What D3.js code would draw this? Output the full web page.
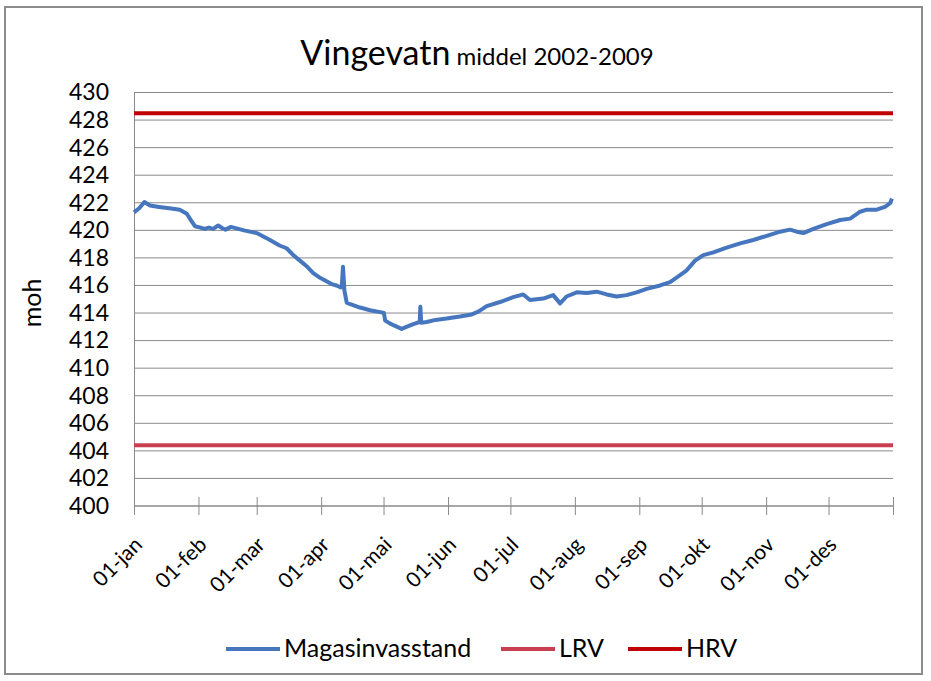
<!DOCTYPE html>
<html>
<head>
<meta charset="utf-8">
<script src="https://cdn.jsdelivr.net/npm/d3@7"></script>
<style>
  body { margin: 0; background: #fff; }
  text { font-family: Lato, 'Open Sans', sans-serif; fill: #000; }
</style>
</head>
<body>
<div id="chart-1"></div>
<script>
// day of year (0 = 01-jan) and mean reservoir level
const days = [0, 2.5, 5, 7.7, 12, 17, 22, 25.4, 27.5, 29.3, 32, 34, 36, 38, 40.5, 42.5, 44, 46.6, 52.9, 59,
  65.4, 70, 73.4, 76.6, 81.4, 83, 86.2, 89, 92.6, 95, 97.4, 99.5, 99.9, 100.5, 101.2, 102.3, 104, 108.7, 113.5, 119,
  120.2, 120.8, 123, 125, 128.7, 131, 134.3, 137.4, 137.7, 138.1, 140.7, 145, 150.3, 156.8, 162.4, 165.6, 169.6, 176, 182.4, 187.2,
  190.4, 196.8, 201.6, 204.9, 208, 212.9, 217.7, 222.5, 227.3, 232.1, 236.9, 241.7, 246.5, 253, 257.8, 262.6, 265.8, 269.8, 273.8, 278.6,
  285, 291.5, 297.8, 304.3, 310.7, 315.5, 318.7, 321.9, 326.7, 333.1, 339.6, 344.4, 349.2, 352.4, 357.2, 361.1, 363.5, 364.5]
const levels = [421.3, 421.6, 422.05, 421.8, 421.7, 421.6, 421.5, 421.2, 420.7, 420.3, 420.2, 420.1, 420.2, 420.1, 420.35, 420.15, 420.05, 420.25, 420.0, 419.8,
  419.3, 418.9, 418.7, 418.2, 417.6, 417.4, 416.9, 416.6, 416.3, 416.1, 416.0, 415.85, 415.9, 417.35, 415.6, 414.75, 414.65, 414.4, 414.2, 414.05,
  414.0, 413.45, 413.25, 413.1, 412.85, 413.0, 413.2, 413.35, 414.45, 413.3, 413.35, 413.5, 413.6, 413.75, 413.9, 414.1, 414.5, 414.8, 415.15, 415.35,
  414.95, 415.05, 415.3, 414.7, 415.2, 415.5, 415.45, 415.55, 415.35, 415.2, 415.3, 415.5, 415.75, 416.0, 416.25, 416.75, 417.1, 417.8, 418.2, 418.4,
  418.75, 419.05, 419.3, 419.6, 419.9, 420.05, 419.9, 419.8, 420.1, 420.45, 420.75, 420.85, 421.35, 421.5, 421.5, 421.7, 421.95, 422.3]

const lrv = 404.4
const hrv = 428.5

const tickLabels = ['01-jan', '01-feb', '01-mar', '01-apr', '01-mai', '01-jun', '01-jul', '01-aug', '01-sep', '01-okt', '01-nov', '01-des']
const yTicks = d3.range(400, 431, 2)

const legendNames = ['Magasinvasstand', 'LRV', 'HRV']
const colors = { Magasinvasstand: '#4677be', LRV: '#c8404f', HRV: '#c00000' }

let margin = { top: 92.5, left: 134, right: 38, bottom: 175 }
let width = 931 - margin.left - margin.right
let height = 681 - margin.top - margin.bottom

let outer = d3
  .select('#chart-1')
  .append('svg')
  .attr('width', 931)
  .attr('height', 681)

// chart frame
outer.append('rect')
  .attr('x', 5).attr('y', 7)
  .attr('width', 917).attr('height', 667)
  .attr('fill', 'none')
  .attr('stroke', '#8c8c8c')
  .attr('stroke-width', 2)

let svg = outer.append('g')
  .attr('transform', 'translate(' + margin.left + ',' + margin.top + ')')

const start = new Date(Date.UTC(2009, 0, 1))
const end = new Date(Date.UTC(2010, 0, 1))
const xScale = d3.scaleUtc().domain([start, end]).range([0, width])
const yScale = d3.scaleLinear().domain([400, 430]).range([height, 0])

const toDate = d => new Date(start.getTime() + d * 864e5)

// gridlines
svg.selectAll('.grid')
  .data(yTicks)
  .enter()
  .append('line')
  .attr('class', 'grid')
  .attr('x1', 0)
  .attr('x2', width)
  .attr('y1', d => yScale(d))
  .attr('y2', d => yScale(d))
  .attr('stroke', '#8a8a8a')
  .attr('stroke-width', 1)

// y axis
const yAxis = d3.axisLeft(yScale).tickValues(yTicks).tickSize(0).tickPadding(25)
svg.append('g')
  .attr('class', 'y-axis')
  .call(yAxis)
  .call(g => g.select('.domain').attr('stroke', '#8a8a8a'))
  .call(g => g.selectAll('text').attr('font-size', 23).attr('font-family', 'Lato').attr('fill', '#000'))

// x axis
const monthTicks = d3.utcMonth.range(start, d3.utcDay.offset(end, 1))
const xAxis = d3.axisBottom(xScale).tickValues(monthTicks).tickSize(9).tickFormat(d => d < end ? tickLabels[d.getUTCMonth()] : '')
svg.append('g')
  .attr('class', 'x-axis')
  .attr('transform', 'translate(0,' + height + ')')
  .call(xAxis)
  .call(g => g.select('.domain').attr('stroke', '#8a8a8a').attr('d', 'M0,0H' + width))
  .call(g => g.selectAll('.tick line').attr('stroke', '#8a8a8a').attr('y1', -9))
  .call(g => g.selectAll('text')
    .attr('font-size', 21)
    .attr('font-family', 'Lato')
    .attr('fill', '#000')
    .attr('text-anchor', 'end')
    .attr('dy', null)
    .attr('y', 0)
    .attr('transform', 'translate(9,40) rotate(-45)'))

// LRV / HRV
svg.append('line')
  .attr('x1', 0).attr('x2', width)
  .attr('y1', yScale(lrv)).attr('y2', yScale(lrv))
  .attr('stroke', colors.LRV).attr('stroke-width', 4)

svg.append('line')
  .attr('x1', 0).attr('x2', width)
  .attr('y1', yScale(hrv)).attr('y2', yScale(hrv))
  .attr('stroke', colors.HRV).attr('stroke-width', 4)

// reservoir level
const line = d3.line()
  .x((d, i) => xScale(toDate(d)))
  .y((d, i) => yScale(levels[i]))

svg.append('path')
  .datum(days)
  .attr('d', line)
  .attr('fill', 'none')
  .attr('stroke', colors.Magasinvasstand)
  .attr('stroke-width', 4)
  .attr('stroke-linejoin', 'round')

// y title
outer.append('text')
  .text('moh')
  .attr('transform', 'translate(41,303) rotate(-90)')
  .attr('text-anchor', 'middle')
  .attr('font-size', 25)

// title
const title = outer.append('text')
  .attr('x', 477)
  .attr('y', 65)
  .attr('text-anchor', 'middle')
title.append('tspan').text('Vingevatn').attr('font-size', 34)
title.append('tspan').text(' middel 2002-2009').attr('font-size', 24)

// legend
const legendX = [226, 501, 628]
legendNames.forEach((name, i) => {
  outer.append('line')
    .attr('x1', legendX[i]).attr('x2', legendX[i] + 54)
    .attr('y1', 649).attr('y2', 649)
    .attr('stroke', colors[name])
    .attr('stroke-width', 4)
  outer.append('text')
    .text(name)
    .attr('x', legendX[i] + 58)
    .attr('y', 657)
    .attr('font-size', 25)
})
</script>
</body>
</html>
